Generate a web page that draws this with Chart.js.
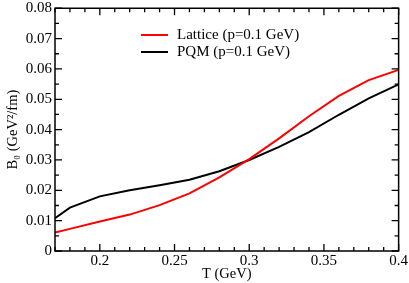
<!DOCTYPE html>
<html>
<head>
<meta charset="utf-8">
<script src="https://cdn.jsdelivr.net/npm/chart.js@4/dist/chart.umd.min.js"></script>
<style>
  html, body { margin: 0; padding: 0; background: #fff; }
  #wrap { width: 409px; height: 283px; position: relative; }
</style>
</head>
<body>
<div id="wrap"><canvas id="chart"></canvas></div>
<script>
// temperature grid (GeV)
const temps = [0.17, 0.18, 0.20, 0.22, 0.24, 0.26, 0.28, 0.30, 0.32, 0.34, 0.36, 0.38, 0.40];
// B0 values (GeV^2/fm)
const latticeB0 = [0.0061, 0.0073, 0.0097, 0.0120, 0.0151, 0.0190, 0.0243, 0.0303, 0.0371, 0.0444, 0.0511, 0.0563, 0.0597];
const pqmB0 = [0.0108, 0.0143, 0.0180, 0.0200, 0.0217, 0.0235, 0.0263, 0.0300, 0.0343, 0.0392, 0.0449, 0.0503, 0.0549];
const seriesNames = ['Lattice (p=0.1 GeV)', 'PQM (p=0.1 GeV)'];

const serif = 'Liberation Serif, Times New Roman, serif';

function isMultiple(v, step) {
    return Math.abs(v / step - Math.round(v / step)) < 1e-6;
}

// frame, inward ticks and legend
const framePlugin = {
    id: 'frame',
    afterDraw(chart) {
        const ctx = chart.ctx;
        const a = chart.chartArea;
        const xs = chart.scales.x, ys = chart.scales.y;
        ctx.save();
        ctx.strokeStyle = '#000';
        ctx.lineWidth = 1.3;
        ctx.beginPath();
        xs.ticks.forEach(t => {
            const px = xs.getPixelForValue(t.value);
            const len = isMultiple(t.value, 0.05) ? 7 : 4;
            ctx.moveTo(px, a.bottom); ctx.lineTo(px, a.bottom - len);
            ctx.moveTo(px, a.top); ctx.lineTo(px, a.top + len);
        });
        ys.ticks.forEach(t => {
            const py = ys.getPixelForValue(t.value);
            const len = isMultiple(t.value, 0.01) ? 7 : 4;
            ctx.moveTo(a.left, py); ctx.lineTo(a.left + len, py);
            ctx.moveTo(a.right, py); ctx.lineTo(a.right - len, py);
        });
        ctx.stroke();
        ctx.lineWidth = 1.5;
        ctx.strokeRect(a.left, a.top, a.right - a.left, a.bottom - a.top);

        // legend
        ctx.font = '15px ' + serif;
        ctx.textBaseline = 'middle';
        ctx.textAlign = 'left';
        chart.data.datasets.forEach((ds, i) => {
            const y = 35 + i * 17;
            ctx.strokeStyle = ds.borderColor;
            ctx.lineWidth = 2;
            ctx.beginPath();
            ctx.moveTo(141, y); ctx.lineTo(168, y);
            ctx.stroke();
            ctx.fillStyle = '#000';
            ctx.fillText(ds.label, 177, y);
        });
        ctx.restore();
    }
};

const ctx = document.getElementById('chart').getContext('2d');
new Chart(ctx, {
    type: 'line',
    data: {
        labels: temps,
        datasets: [
            {
                label: seriesNames[0],
                data: temps.map((t, i) => ({ x: t, y: latticeB0[i] })),
                borderColor: '#ff0000',
                borderWidth: 2,
                pointRadius: 0,
                tension: 0,
                fill: false
            },
            {
                label: seriesNames[1],
                data: temps.map((t, i) => ({ x: t, y: pqmB0[i] })),
                borderColor: '#000000',
                borderWidth: 2,
                pointRadius: 0,
                tension: 0,
                fill: false
            }
        ]
    },
    options: {
        responsive: true,
        maintainAspectRatio: false,
        animation: false,
        layout: { padding: { top: 5, right: 7, left: 0, bottom: 0 } },
        plugins: {
            legend: { display: false },
            tooltip: { enabled: false }
        },
        scales: {
            x: {
                type: 'linear',
                min: 0.17,
                max: 0.4,
                grid: { display: false, drawTicks: false },
                border: { display: false },
                ticks: {
                    stepSize: 0.01,
                    autoSkip: false,
                    maxRotation: 0,
                    padding: 1,
                    color: '#000',
                    font: { family: serif, size: 15 },
                    callback: v => isMultiple(v, 0.05) ? String(Math.round(v * 100) / 100) : ''
                },
                title: {
                    display: true,
                    text: 'T (GeV)',
                    color: '#000',
                    font: { family: serif, size: 14.5 },
                    padding: { top: 0, bottom: 0 }
                },
                afterFit: s => { s.height = 32; }
            },
            y: {
                min: 0,
                max: 0.08,
                grid: { display: false, drawTicks: false },
                border: { display: false },
                ticks: {
                    stepSize: 0.005,
                    autoSkip: false,
                    padding: 3,
                    color: '#000',
                    font: { family: serif, size: 15, lineHeight: 0.7 },
                    callback: v => {
                        if (!isMultiple(v, 0.01)) return '';
                        return Math.abs(v) < 1e-9 ? '0' : v.toFixed(2);
                    }
                },
                title: {
                    display: true,
                    text: 'B\u2080 (GeV\u00B2/fm)',
                    color: '#000',
                    font: { family: serif, size: 14.5 },
                    padding: { top: 4, bottom: 0 }
                },
                afterFit: s => { s.width = 55; }
            }
        }
    },
    plugins: [framePlugin]
});
</script>
</body>
</html>
